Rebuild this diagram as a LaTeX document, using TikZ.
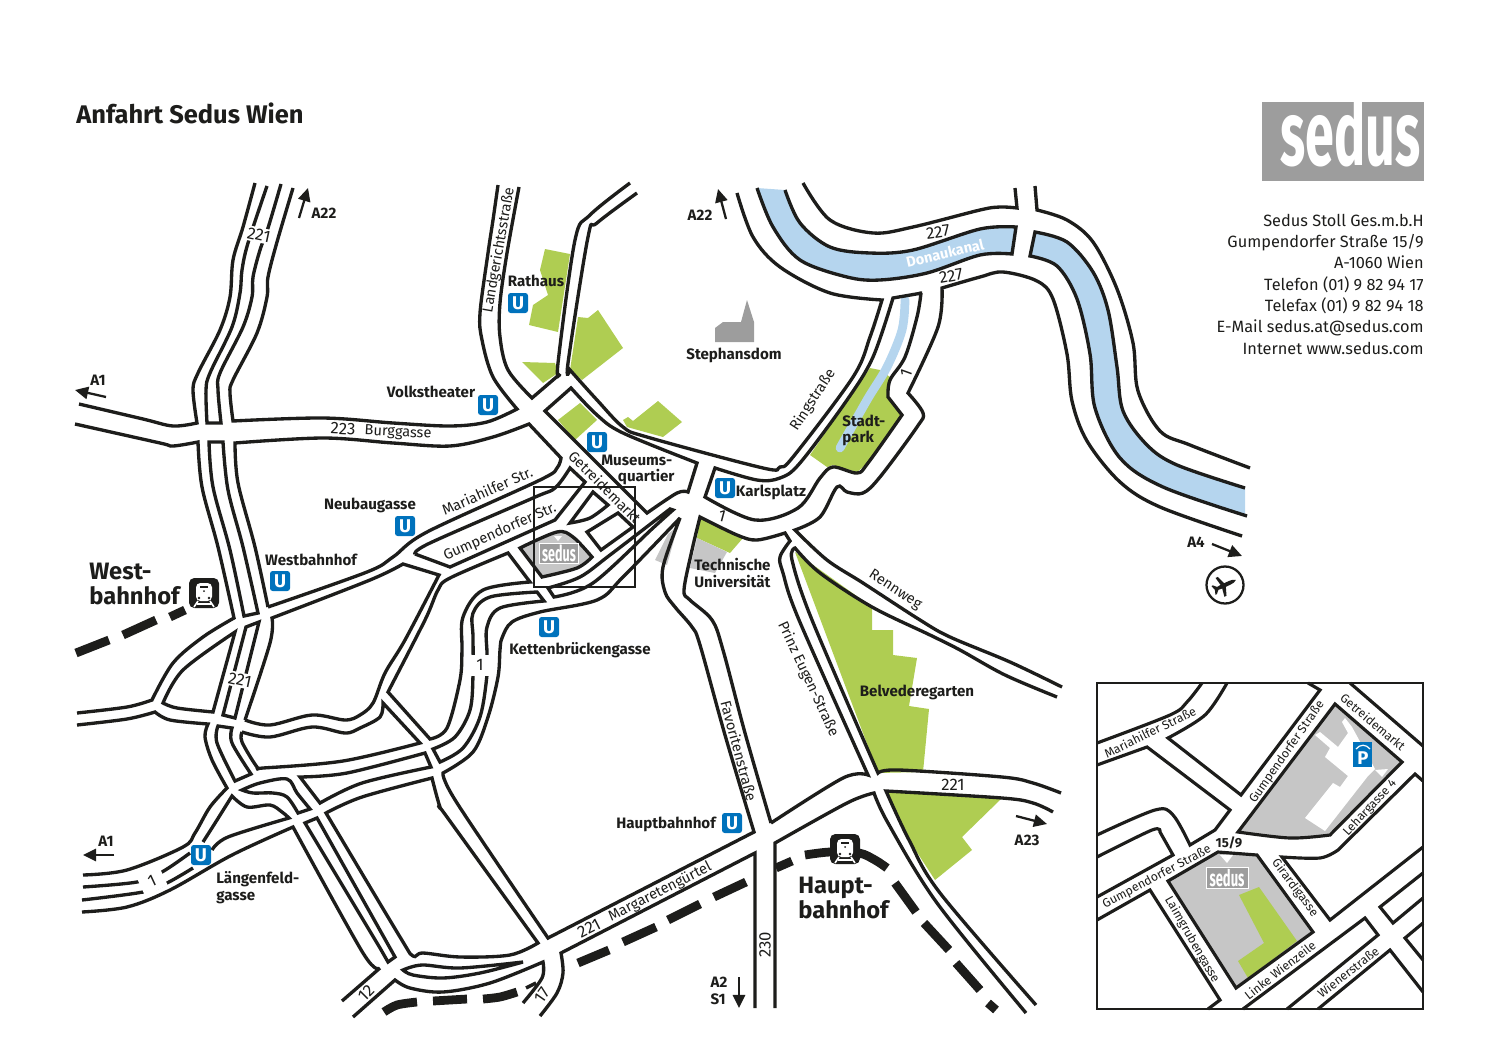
\documentclass[tikz,border=0pt]{standalone}
\usepackage{fontspec}
\setmainfont{Fira Sans}
\usetikzlibrary{arrows.meta}
\definecolor{parkgreen}{HTML}{AFCD52}
\definecolor{riverblue}{HTML}{B5D5EE}
\definecolor{blockgray}{HTML}{C6C6C6}
\definecolor{logogray}{HTML}{9D9D9D}
\definecolor{ublue}{HTML}{0072BC}
\definecolor{ink}{HTML}{1D1D1B}
\newcommand{\sedusword}[1]{\scalebox{0.57}[1]{\fontsize{#1}{#1}\selectfont\bfseries sedus}}
\newcommand{\trainicon}[3]{%
  \node[fill=ink,rounded corners=3pt,minimum size=0.6cm,inner sep=0pt] (#1) at (#2,#3) {};
  \fill[white,rounded corners=2.5pt] (#2-8,#3-10) rectangle (#2+8,#3+8);
  \fill[ink] (#2-4,#3-7.5) rectangle (#2+4,#3-5.5);
  \fill[ink] (#2-5,#3+5) circle (1.3) (#2+5,#3+5) circle (1.3) (#2,#3-2) circle (1);
  \draw[white,line width=0.9pt] (#2-6,#3+8) -- (#2-10,#3+14) (#2+6,#3+8) -- (#2+10,#3+14) (#2-7,#3+11) -- (#2+7,#3+11);
}
\begin{document}
\begin{tikzpicture}[x=0.02cm,y=-0.02cm]
	\tikzstyle{every plot}=[smooth,tension=0.55]
	\tikzstyle{road}=[draw=ink,line width=1.9pt,miter limit=4]
	\tikzstyle{inroad}=[draw=ink,line width=1.8pt]
	\tikzstyle{rail}=[draw=ink,line width=5pt]
	\tikzstyle{park}=[fill=parkgreen,draw=none]
	\tikzstyle{way}=[-{Triangle[length=7.5pt,width=7pt]},draw=ink,fill=ink,line width=1.3pt]
	\tikzstyle{place}=[font=\bfseries\fontsize{8.6}{9.6}\selectfont,text=ink,inner sep=0pt,align=left]
	\tikzstyle{bigplace}=[font=\bfseries\fontsize{13.5}{14.2}\selectfont,text=ink,inner sep=0pt,align=left]
	\tikzstyle{street}=[font=\fontsize{8.3}{10}\selectfont,text=ink,inner sep=0pt]
	\tikzstyle{roadno}=[font=\fontsize{9.5}{10}\selectfont,text=ink,inner sep=1pt,fill=white]
	\tikzstyle{instreet}=[font=\fontsize{7}{9}\selectfont,text=ink,inner sep=0pt]
	\tikzstyle{ustop}=[fill=ublue,text=white,rounded corners=1.5pt,minimum size=0.4cm,inner sep=0pt,font=\bfseries\fontsize{10.5}{10.5}\selectfont]
	\useasboundingbox (0,0) rectangle (1500,1061);

	% parks and grey blocks
	\fill[park] (545,249) -- (570,254) -- (558,332) -- (529,325) -- (533,305) -- (548,295) -- (540,270) -- cycle;
	\fill[park] (578,317) -- (588,318) -- (598,310) -- (623,348) -- (582,380) -- (570,370) -- cycle;
	\fill[park] (522,362) -- (555,363) -- (558,373) -- (543,383) -- cycle;
	\fill[park] (580,403) -- (597,420) -- (575,440) -- (558,420) -- cycle;
	\fill[park] (623,420) -- (628,417) -- (633,421) -- (658,401) -- (682,422) -- (663,437) -- (627,427) -- cycle;
	\fill[park] (700,517) -- (743,538) -- (730,553) -- (697,538) -- cycle;
	\fill[blockgray] (697,538) -- (727,552) -- (715,573) -- (690,568) -- cycle;
	\fill[blockgray] (655,560) -- (668,534) -- (678,526) -- (667,565) -- cycle;
	\fill[park] (810,455) -- (870,368) -- (880,370) -- (890,377) -- (888,397) -- (902,415) -- (868,463) -- (857,472) -- (833,465) -- (827,467) -- cycle;
	\fill[park] (795,552) -- (823,572) -- (872,607) -- (872,630) -- (893,630) -- (893,655) -- (917,658) -- (909,706) -- (929,709) -- (923,772) -- (878,773) -- cycle;
	\fill[park] (886,791) -- (1002,798) -- (962,837) -- (972,850) -- (935,880) -- (909,840) -- cycle;
	\fill[logogray] (715,328) -- (723,322) -- (741,322) -- (747,300) -- (754,322) -- (754,342) -- (715,342) -- cycle;

	% river
	\fill[riverblue] plot coordinates {(757,188)(773,227)(800,260)(847,277)(880,280)(927,273)(980,255)(1012,254)} -- (1016,227) -- plot coordinates {(1016,227)(980,229)(913,250)(870,253)(830,247)(800,223)(785,190)} -- cycle;
	\fill[riverblue] plot coordinates {(1035,232)(1067,242)(1093,272)(1108,310)(1117,367)(1123,411)(1147,445)(1177,465)(1245,488)} -- (1245,515) -- plot coordinates {(1245,515)(1163,487)(1120,458)(1095,408)(1090,354)(1077,299)(1057,266)(1030,256)} -- cycle;
	\draw[riverblue,line width=5pt,line cap=round] plot coordinates {(905,300)(902,330)(887,367)(867,400)(840,448)};

	% roads, west
	\draw[road] plot coordinates {(79,404)(143,419)(173,426)(197,423)} -- plot coordinates {(197,423)(193,390)(198,373)(220,330)(230,297)(233,260)(243,227)(255,183)};
	\draw[road] plot coordinates {(267,186)(248,243)(242,270)(240,293)(232,327)(210,373)(206,390)(207,423)} -- plot coordinates {(221,423)(218,390)(220,373)(243,327)(252,297)(253,277)(260,250)(268,228)(281,184)};
	\draw[road] plot coordinates {(293,188)(277,242)(268,277)(267,297)(257,333)(233,380)(230,393)(233,421)} -- plot coordinates {(233,421)(323,418)(393,423)(450,426)(487,422)(517,409)} -- plot coordinates {(517,409)(493,377)(482,340)(480,313)(488,253)(493,220)(498,185)};
	\draw[road] plot coordinates {(75,424)(160,443)(173,446)(198,442)} -- plot coordinates {(198,442)(202,487)(218,547)(234,618)} -- plot coordinates {(234,618)(203,637)(173,663)(152,700)} -- plot coordinates {(152,700)(127,707)(77,713)};
	\draw[road] plot coordinates {(244,616)(230,550)(213,487)(209,442)} -- plot coordinates {(223,442)(228,490)(243,547)(258,613)} -- cycle;
	\draw[road] plot coordinates {(268,607)(255,547)(238,483)(235,443)} -- plot coordinates {(235,443)(323,438)(393,443)(450,446)(493,437)(529,424)} -- (561,458) -- plot coordinates {(561,458)(557,468)(540,480)(427,532)(393,557)(367,572)(268,607)};
	\draw[road] plot coordinates {(245,720)(270,643)(272,618)} -- plot coordinates {(272,618)(370,580)(403,564)} -- (439,575) -- plot coordinates {(439,575)(405,640)(385,673)(373,703)(360,715)(345,720)(312,715)(270,725)(245,720)};
	\draw[road] plot coordinates {(163,703)(183,670)(235,632)} -- (213,712) -- plot coordinates {(213,712)(177,708)(163,703)} -- cycle;
	\draw[road] (246,627) -- (223,715) -- (235,718) -- (259,622) -- cycle;
	\draw[road] plot coordinates {(77,725)(127,719)(155,712)} -- plot coordinates {(155,712)(170,720)(208,724)} -- plot coordinates {(208,724)(205,737)(212,760)(227,788)} -- plot coordinates {(227,788)(210,807)(195,833)(183,847)(127,870)(83,875)};
	\draw[road] plot coordinates {(218,726)(217,743)(235,781)} -- (251,774) -- plot coordinates {(251,774)(232,743)(232,728)} -- cycle;
	\draw[road] plot coordinates {(242,732)(270,737)(312,727)(345,733)(360,728)(380,717)(383,703)} -- (420,743) -- plot coordinates {(420,743)(343,761)(263,768)(257,767)(242,742)(242,732)};
	\draw[road] plot coordinates {(83,887)(137,882)(162,872)(190,853)};
	\draw[road] plot coordinates {(82,900)(143,892)(167,883)(193,868)};
	\draw[road] plot coordinates {(203,842)(217,820)(232,796)} -- plot coordinates {(232,796)(247,807)(270,805)(282,812)(289,818)} -- plot coordinates {(289,818)(228,837)(212,850)};
	\draw[road] plot coordinates {(82,912)(127,907)(170,890)(232,855)(293,827)} -- plot coordinates {(293,827)(363,953)(380,968)} -- (342,1001);
	\draw[road] plot coordinates {(242,790)(260,783)(287,779)(297,793)(310,809)} -- (298,813) -- plot coordinates {(298,813)(287,797)(273,793)(253,793)(242,790)} -- cycle;
	\draw[road] (305,823) -- (380,948) -- (388,962) -- (395,957) -- (317,818) -- cycle;
	\draw[road] plot coordinates {(326,813)(362,797)(432,778)} -- plot coordinates {(432,778)(440,807)(447,817)(538,943)} -- plot coordinates {(538,943)(510,955)(460,957)(423,953)(413,956)(400,937)(326,813)} -- cycle;
	\draw[road] (300,777) -- plot coordinates {(300,777)(347,773)(425,753)} -- (431,767) -- plot coordinates {(431,767)(362,783)(320,803)} -- cycle;

	% roads, centre
	\draw[road] plot coordinates {(443,773)(457,803)(548,938)} -- (754,832) -- plot coordinates {(754,832)(725,735)(700,645)(692,627)(675,607)(665,592)(663,567)(680,518)} -- plot coordinates {(680,518)(623,577)(597,600)(540,612)(512,622)(502,638)(500,650)(498,677)(488,717)(473,752)(443,773)} -- cycle;
	\draw[road] plot coordinates {(544,601)(500,608)(487,627)(487,653)(487,675)(480,717)(463,748)(440,762)} -- (433,749) -- plot coordinates {(433,749)(455,737)(470,710)(473,675)(473,637)(473,613)(490,597)(537,592)} -- cycle;
	\draw[road] plot coordinates {(508,553)(450,578)(438,590)(425,620)(388,692)} -- (430,739) -- plot coordinates {(430,739)(447,728)(460,680)(462,650)(463,617)(483,590)(530,582)} -- cycle;
	\draw[road] plot coordinates {(670,509)(610,555)(580,577)(548,588)} -- (554,597) -- plot coordinates {(554,597)(593,583)(653,528)(673,510)} -- cycle;
	\draw[road] (415,554) -- (450,567) -- (555,520) -- (585,482) -- (570,468) -- plot coordinates {(570,468)(555,488)(533,498)(430,543)(415,554)};
	\draw[road] plot coordinates {(570,523)(590,518)(608,505)} -- (593,492) -- cycle;
	\draw[road] (587,532) -- (618,513) -- (633,527) -- (601,550) -- cycle;
	\draw[road,fill=blockgray] (520,548) -- (542,577) -- plot coordinates {(542,577)(577,568)(592,557)} -- plot coordinates {(592,557)(573,537)(557,532)(520,548)} -- cycle;
	\draw[road] (571,388) -- (545,411) -- (647,513) -- plot coordinates {(647,513)(677,493)(688,492)} -- (697,463) -- plot coordinates {(697,463)(623,433)(597,415)(571,388)} -- cycle;
	\draw[road] plot coordinates {(637,193)(597,223)(588,237)(568,363)(570,370)} -- plot coordinates {(570,370)(597,400)(623,427)(647,437)(763,468)(780,467)(793,457)(853,377)(870,337)(882,300)} -- plot coordinates {(882,300)(830,293)(780,267)(753,237)(737,193)};
	\draw[road] plot coordinates {(630,183)(590,215)(575,240)(558,363)(560,374)} -- (532,398) -- plot coordinates {(532,398)(508,370)(500,337)(500,303)(507,253)(519,187)};
	\draw[road] plot coordinates {(715,468)(757,480)(780,478)(800,463)(847,400)(873,357)(893,298)} -- (922,293) -- plot coordinates {(921,293)(917,317)(905,357)(890,380)(888,397)} -- (902,415) -- plot coordinates {(902,415)(868,463)(857,473)(833,467)(820,478)(798,508)(755,520)(705,497)} -- cycle;
	\draw[road] plot coordinates {(1062,687)(1010,662)(950,637)(920,620)(863,583)(827,560)(795,530)} -- plot coordinates {(795,530)(820,517)(837,487)(847,492)(863,493)(880,477)(917,427)(923,413)(908,393)} -- plot coordinates {(908,393)(938,327)(942,288)} -- plot coordinates {(942,288)(980,277)(1003,272)(1037,281)(1053,299)(1067,354)(1072,401)(1087,441)(1120,482)(1160,507)(1242,536)};

	% roads, east and south
	\draw[road] plot coordinates {(771,823)(745,733)(723,650)(712,620)(690,600)(684,590)(692,550)(700,517)} -- plot coordinates {(700,517)(737,535)(757,540)(785,533)} -- (790,541) -- plot coordinates {(790,541)(780,557)(783,573)(799,620)(868,775)} -- plot coordinates {(868,775)(843,778)(771,823)};
	\draw[road] plot coordinates {(1057,697)(1005,675)(960,650)(930,635)(872,607)(820,573)(795,548)} -- plot coordinates {(795,548)(792,560)(812,620)(878,773)} -- plot coordinates {(878,773)(899,770)(1002,777)(1033,783)(1061,793)};
	\draw[road] (755,1008) -- (755,853) -- (561,953) -- plot coordinates {(561,953)(563,973)(557,993)(540,1016)};
	\draw[road] (775,1008) -- (775,843) -- plot coordinates {(775,843)(847,803)(874,793)} -- plot coordinates {(874,793)(888,823)(937,903)(1026,1013)};
	\draw[road] plot coordinates {(1053,812)(1033,803)(1002,798)(886,791)} -- plot coordinates {(886,791)(909,840)(940,893)(1036,1005)};
	\draw[road] (353,1017) -- plot coordinates {(395,980)(410,988)(443,992)(490,983)(543,962)} -- plot coordinates {(543,962)(542,978)(523,1003)};
	\draw[road] plot coordinates {(403,970)(422,965)(460,968)(523,962)} -- plot coordinates {(523,962)(480,973)(443,978)(413,975)(403,970)} -- cycle;

	% river banks
	\draw[road] plot coordinates {(757,188)(773,227)(800,260)(847,277)(880,280)(927,273)(980,255)(1012,254)} -- (1016,227) -- plot coordinates {(1016,227)(980,229)(913,250)(870,253)(830,247)(800,223)(785,190)};
	\draw[road] plot coordinates {(803,183)(830,220)(873,233)(913,227)(980,210)(1000,207)(1017,208)} -- (1015,188);
	\draw[road] plot coordinates {(1250,468)(1190,445)(1160,431)(1138,391)(1133,343)(1117,289)(1093,242)(1067,220)(1037,210)} -- (1035,186);
	\draw[road] plot coordinates {(1245,488)(1177,465)(1147,445)(1123,411)(1117,367)(1108,310)(1093,272)(1067,242)(1035,232)} -- (1030,256) -- plot coordinates {(1030,256)(1057,266)(1077,299)(1090,354)(1095,408)(1120,458)(1163,487)(1247,516)};

	% rail lines
	\foreach \xa/\ya/\xb/\yb in {76/653/109/640,123/635/156/620,170/617/185/610,433/1001/467/999,578/963/609/950,623/942/656/927,668/920/700/904,714/897/746/882,776/868/792/861,895/883/916/912,924/923/949/950,956/963/980/990,988/1003/996/1010}
		\draw[rail] (\xa,\ya) -- (\xb,\yb);
	\draw[rail] plot coordinates {(384,1012)(397,1005)(417,1002)};
	\draw[rail] plot coordinates {(483,999)(500,997)(517,992)};
	\draw[rail] plot coordinates {(805,855)(830,852)(859,853)(875,860)(887,868)};
	\draw[draw=ink,line width=2pt] (526,988) -- (536,983);

	% section frame
	\draw[draw=ink,line width=0.9pt] (534,487) rectangle (635,587);

	% sedus on the map
	\node[fill=logogray,draw=white,line width=0.4pt,minimum width=0.78cm,minimum height=0.4cm,inner sep=0pt,text=white] (smallLogo) at (559,553) {\sedusword{12.5}};
	\fill[white] (554,536) -- (562,536) -- (558,541) -- cycle;

	% underground stops
	\node[ustop] (uRathaus) at (518,303) {U};
	\node[ustop] (uVolks) at (488,405) {U};
	\node[ustop] (uNeubau) at (405,526) {U};
	\node[ustop] (uWest) at (280,581) {U};
	\node[ustop] (uMuseum) at (597,442) {U};
	\node[ustop] (uKarls) at (725,488) {U};
	\node[ustop] (uKetten) at (549,627) {U};
	\node[ustop] (uLangen) at (201,855) {U};
	\node[ustop] (uHaupt) at (732,823) {U};

	% stations
	\trainicon{westIcon}{204}{593}
	\trainicon{hauptIcon}{845}{849}

	% place names
	\node[place] (rathaus) at (536,281) {Rathaus};
	\node[place] (volkstheater) at (431,392) {Volkstheater};
	\node[place] (neubaugasse) at (370,505) {Neubaugasse};
	\node[place] (westbahnhof) at (311,560) {Westbahnhof};
	\node[place,anchor=west] (museum) at (601,469.5) {Museums-\\[-0.5pt]\hspace*{1.1em}quartier};
	\node[place] (karlsplatz) at (771,492) {Karlsplatz};
	\node[place,anchor=west] (tu) at (694,573) {Technische\\Universität};
	\node[place] (stephansdom) at (734,355) {Stephansdom};
	\node[place,anchor=west] (stadtpark) at (842,430.5) {Stadt-\\park};
	\node[place] (belvedere) at (917,692) {Belvederegarten};
	\node[place] (kettenbruecke) at (580,650) {Kettenbrückengasse};
	\node[place] (hauptbf) at (666,824) {Hauptbahnhof};
	\node[place,anchor=west] (langen) at (216,888) {Längenfeld-\\gasse};
	\node[bigplace,anchor=west] (westbf) at (89,584) {West-\\bahnhof};
	\node[bigplace,anchor=west] (hauptbig) at (798,898) {Haupt-\\bahnhof};

	% street names
	\node[street,rotate=80] (landgericht) at (499,250) {Landgerichtsstraße};
	\node[street,rotate=24] (mariahilf) at (487,491) {Mariahilfer Str.};
	\node[street,rotate=24] (gumpendorf) at (500,532) {Gumpendorfer Str.};
	\node[street,rotate=-45] (getreide) at (605,487) {Getreidemarkt};
	\node[street,rotate=57] (ring) at (813,400) {Ringstraße};
	\node[street,rotate=13,text=white,font=\bfseries\fontsize{8.3}{10}\selectfont] (kanal) at (945,253) {Donaukanal};
	\node[street,rotate=-33] (rennweg) at (895,590) {Rennweg};
	\node[street,rotate=-65] (prinz) at (808,679) {Prinz Eugen-Straße};
	\node[street,rotate=-75] (favoriten) at (739,751) {Favoritenstraße};
	\node[street,rotate=27] (margareten) at (660,892) {Margaretengürtel};
	\node[street,rotate=-3] (burggasse) at (398,433) {Burggasse};

	% road numbers
	\node[roadno,rotate=-12] (nr221a) at (259,235) {221};
	\node[roadno,rotate=-12] (nr221b) at (240,680) {221};
	\node[roadno,fill=none] (nr221c) at (953,785) {221};
	\node[roadno,rotate=27,fill=none] (nr221d) at (589,928) {221};
	\node[roadno,rotate=-3,fill=none] (nr223) at (343,429) {223};
	\node[roadno,rotate=8,fill=none] (nr227a) at (938,232) {227};
	\node[roadno,rotate=10,fill=none] (nr227b) at (951,276) {227};
	\node[roadno,rotate=90,fill=none] (nr230) at (765,945) {230};
	\node[roadno,minimum width=0.4cm,minimum height=0.42cm] (nr1a) at (480,665) {1};
	\node[roadno,rotate=25,minimum width=0.5cm,minimum height=0.42cm] (nr1b) at (152,881) {1};
	\node[roadno,rotate=70,fill=none] (nr1c) at (906,373) {1};
	\node[roadno,rotate=-15,fill=none] (nr1d) at (722,516) {1};
	\node[roadno,rotate=45,fill=none] (nr12) at (366,993) {12};
	\node[roadno,rotate=55,fill=none] (nr17) at (542,995) {17};

	% ways out
	\draw[way] (299,218) -- (308,188);
	\node[place] (a22a) at (324,213) {A22};
	\draw[way] (726,219) -- (718,189);
	\node[place] (a22b) at (700,215) {A22};
	\draw[way] (106,397) -- (75,390);
	\node[place] (a1a) at (98,380) {A1};
	\draw[way] (114,855) -- (83,855);
	\node[place] (a1b) at (106,841) {A1};
	\draw[way] (1016,816) -- (1047,824);
	\node[place] (a23) at (1027,840) {A23};
	\draw[way] (1212,544) -- (1242,556);
	\node[place] (a4) at (1196,542) {A4};
	\draw[way] (739,977) -- (739,1008);
	\node[place] (a2) at (719,991) {A2\\S1};

	% airport
	\node[circle,draw=ink,line width=1.3pt,minimum size=0.74cm,inner sep=0pt] (airport) at (1225,585) {};
	\begin{scope}[shift={(1225,585)},rotate=25,scale=0.8]
		\fill[ink] (15,0) .. controls (13,-2) and (10,-2.5) .. (6,-2.5) -- (0,-2.5) -- (-4,-13) -- (-7,-13) -- (-5,-2.5) -- (-10,-2) -- (-14,-6) -- (-16,-6) -- (-14,0) -- (-16,6) -- (-14,6) -- (-10,2) -- (-5,2.5) -- (-7,13) -- (-4,13) -- (0,2.5) -- (6,2.5) .. controls (10,2.5) and (13,2) .. (15,0) -- cycle;
	\end{scope}

	% header
	\node[anchor=west,inner sep=0pt,text=ink,font=\bfseries\fontsize{14.5}{16}\selectfont] (title) at (76,113) {Anfahrt Sedus Wien};
	\node[fill=logogray,minimum width=3.24cm,minimum height=1.58cm,inner sep=0pt] (logo) at (1343,141.5) {};
	\node[text=white,inner sep=0pt,anchor=east] (logoText) at (1421,132) {\sedusword{52}};
	\node[anchor=north east,align=right,inner sep=0pt,text=ink,font=\fontsize{9.3}{12.15}\selectfont] (address) at (1424,213.5) {Sedus Stoll Ges.m.b.H\\Gumpendorfer Straße 15/9\\A-1060 Wien\\Telefon (01) 9 82 94 17\\Telefax (01) 9 82 94 18\\E-Mail sedus.at@sedus.com\\Internet www.sedus.com};

	% inset
	\fill[blockgray] (1335,704) -- (1402,762) -- (1330,835) -- (1290,838) -- (1238,832) -- cycle;
	\fill[white] (1315,735) -- (1330,748) -- (1325,757) -- (1348,776) -- (1340,787) -- (1333,783) -- (1305,818) -- (1325,831) -- (1368,776) -- (1375,769) -- (1352,727) -- (1345,718) -- (1342,722) -- (1348,733) -- (1338,747) -- (1320,732) -- cycle;
	\fill[white] (1375,770) -- (1388,769) -- (1382,777) -- cycle;
	\fill[blockgray] (1168,881) -- (1218,852) -- (1257,855) -- (1313,932) -- (1236,988) -- cycle;
	\fill[park] (1239,895) -- (1259,887) -- (1297,941) -- (1248,978) -- (1238,961) -- (1264,943) -- cycle;
	\draw[inroad] (1097,743) -- plot coordinates {(1097,743)(1170,715)(1187,702)(1202,683)};
	\draw[inroad] (1097,765) -- (1147,747) -- (1230,810) -- (1215,830) -- (1190,845) -- plot coordinates {(1190,845)(1173,815)(1155,810)(1097,835)};
	\draw[inroad] (1097,857) -- plot coordinates {(1097,857)(1152,830)(1160,832)} -- (1173,855) -- (1097,897);
	\draw[inroad] (1097,920) -- (1150,890) -- (1220,1000) -- (1208,1009);
	\draw[inroad] plot coordinates {(1227,683)(1205,715)(1168,738)} -- (1241,795) -- (1320,690) -- (1308,683);
	\draw[inroad] (1350,683) -- (1423,746);
	\draw[inroad] (1335,704) -- (1402,762) -- (1330,835) -- plot coordinates {(1330,835)(1290,838)(1238,832)} -- cycle;
	\draw[inroad] (1423,781) -- (1415,774) -- (1338,850) -- plot coordinates {(1338,850)(1320,858)(1282,857)} -- (1330,920) -- (1423,847);
	\draw[inroad] (1168,881) -- (1218,852) -- (1257,855) -- (1313,932) -- (1236,988) -- cycle;
	\draw[inroad] (1243,1009) -- (1365,918) -- (1378,935) -- (1287,1009);
	\draw[inroad] (1318,1009) -- (1390,950) -- (1423,992);
	\draw[inroad] (1423,873) -- (1380,907) -- (1393,923) -- (1423,898);
	\draw[inroad] (1423,923) -- (1405,938) -- (1423,960);
	\draw[draw=ink,line width=1.3pt] (1097,683) rectangle (1423,1009);
	\node[fill=ublue,minimum width=0.39cm,minimum height=0.5cm,inner sep=0pt] (parking) at (1362.5,754.5) {};
	\node[text=white,inner sep=0pt,font=\bfseries\fontsize{10.5}{10.5}\selectfont] (parkingP) at (1363,758) {P};
	\draw[white,line width=0.7pt] (1356,749) .. controls (1360,744) and (1366,744) .. (1370,749);
	\node[fill=logogray,draw=white,line width=0.4pt,minimum width=0.84cm,minimum height=0.42cm,inner sep=0pt,text=white] (insetLogo) at (1227,878) {\sedusword{13}};
	\fill[white] (1220,855) -- (1233,855) -- (1227,863) -- cycle;
	\node[instreet,rotate=26] (inMaria) at (1150,732) {Mariahilfer Straße};
	\node[instreet,rotate=55] (inGumpA) at (1287,752) {Gumpendorfer Straße};
	\node[instreet,rotate=-40] (inGetreide) at (1373,722) {Getreidemarkt};
	\node[instreet,rotate=47] (inLehar) at (1370,808) {Lehargasse 4};
	\node[instreet,rotate=28] (inGumpB) at (1157,877) {Gumpendorfer Straße};
	\node[instreet,font=\bfseries\fontsize{7.5}{9}\selectfont] (inNumber) at (1229,843) {15/9};
	\node[instreet,rotate=-53] (inGirardi) at (1295,888) {Girardigasse};
	\node[instreet,rotate=-60] (inLaimgrube) at (1192,940) {Laimgrubengasse};
	\node[instreet,rotate=38] (inLinke) at (1280,970) {Linke Wienzeile};
	\node[instreet,rotate=38] (inWiener) at (1348,972) {Wienerstraße};
\end{tikzpicture}
\end{document}
